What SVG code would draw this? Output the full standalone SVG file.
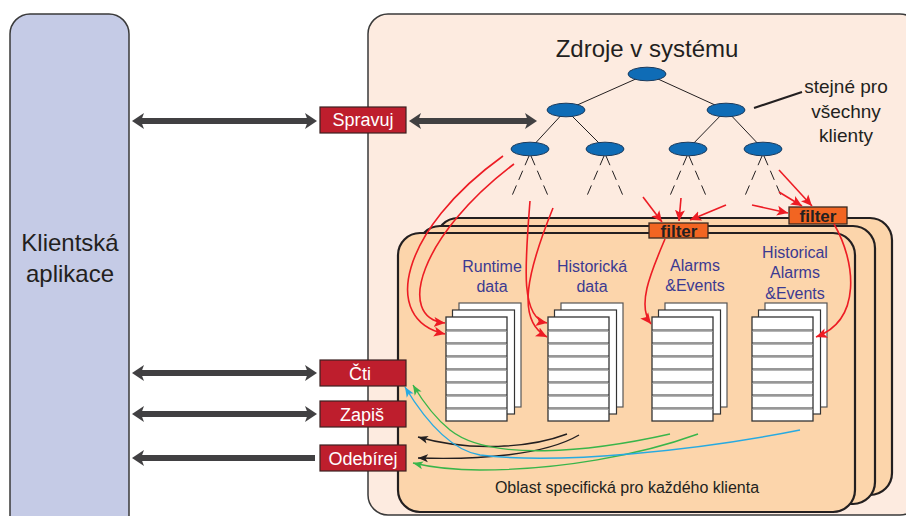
<svg xmlns="http://www.w3.org/2000/svg" xmlns:xlink="http://www.w3.org/1999/xlink" width="906" height="516" viewBox="0 0 906 516">
  <style>
    text { font-family: "Liberation Sans", Arial, sans-serif; }
    .dark { fill: #231f20; }
    .btn rect { fill: #be1e2d; stroke: #3b2020; stroke-width: 1.2; }
    .btn text { fill: #ffffff; font-size: 18px; text-anchor: middle; }
    .lbl { fill: #3b3a92; font-size: 16px; text-anchor: middle; }
    .filter rect { fill: #f26522; stroke: #3a2a20; stroke-width: 1.3; }
    .filter text { fill: #231f20; font-size: 17px; font-weight: bold; text-anchor: middle; }
    .panel { fill: #fcd5ab; stroke: #231f20; stroke-width: 2.2; }
    .tree line { stroke: #231f20; stroke-width: 1; }
    .tree .dash { stroke-dasharray: 10 6; }
    .tree ellipse { fill: #0f6cb6; stroke: #1b3a5c; stroke-width: 1; }
    .bus { stroke: #414042; stroke-width: 6; fill: none; }
    .red { stroke: #ed1c24; stroke-width: 1.6; fill: none; marker-end: url(#hRed); }
    .blk { stroke: #231f20; stroke-width: 1.4; fill: none; marker-end: url(#hBlk); }
    .grn { stroke: #39b54a; stroke-width: 1.4; fill: none; marker-end: url(#hGrn); }
    .blu { stroke: #27aae1; stroke-width: 1.4; fill: none; marker-end: url(#hBlu); }
  </style>
  <defs>
    <marker id="hBus" markerUnits="userSpaceOnUse" viewBox="0 -9 12 18" markerWidth="12" markerHeight="18" refX="5" refY="0" orient="auto-start-reverse">
      <path d="M0,-8 L12,0 L0,8 L3,0 z" fill="#414042"/>
    </marker>
    <marker id="hRed" markerUnits="userSpaceOnUse" viewBox="0 -6 11 12" markerWidth="11" markerHeight="12" refX="11" refY="0" orient="auto">
      <path d="M0,-5 L11,0 L0,5 L2.5,0 z" fill="#ed1c24"/>
    </marker>
    <marker id="hBlk" markerUnits="userSpaceOnUse" viewBox="0 -5 10 10" markerWidth="10" markerHeight="10" refX="10" refY="0" orient="auto">
      <path d="M0,-4 L10,0 L0,4 L2.5,0 z" fill="#231f20"/>
    </marker>
    <marker id="hGrn" markerUnits="userSpaceOnUse" viewBox="0 -5 10 10" markerWidth="10" markerHeight="10" refX="10" refY="0" orient="auto">
      <path d="M0,-4 L10,0 L0,4 L2.5,0 z" fill="#39b54a"/>
    </marker>
    <marker id="hBlu" markerUnits="userSpaceOnUse" viewBox="0 -5 10 10" markerWidth="10" markerHeight="10" refX="10" refY="0" orient="auto">
      <path d="M0,-4 L10,0 L0,4 L2.5,0 z" fill="#27aae1"/>
    </marker>
    <!-- a stack of three record sheets, front sheet at origin -->
    <g id="stack">
      <rect x="13" y="-14" width="62" height="104" fill="#fff" stroke="#555" stroke-width="1.2"/>
      <rect x="6.5" y="-7" width="62" height="104" fill="#fff" stroke="#333" stroke-width="1.2"/>
      <rect x="0" y="0" width="61" height="104" fill="#fff" stroke="#333" stroke-width="1.3"/>
      <path d="M0,13 H61 M0,26 H61 M0,39 H61 M0,52 H61 M0,65 H61 M0,78 H61 M0,91 H61" stroke="#333" stroke-width="1.2"/>
      <path d="M0,14.3 H61 M0,27.3 H61 M0,40.3 H61 M0,53.3 H61 M0,66.3 H61 M0,79.3 H61 M0,92.3 H61" stroke="#999" stroke-width="0.9"/>
    </g>
  </defs>

  <rect width="906" height="516" fill="#ffffff"/>

  <!-- client application -->
  <g id="client">
    <rect x="10" y="14" width="119" height="530" rx="20" fill="#c5cbe6" stroke="#3a3a3a" stroke-width="1.5"/>
    <text x="70" y="251" class="dark" font-size="24" text-anchor="middle">Klientská</text>
    <text x="70" y="282" class="dark" font-size="24" text-anchor="middle">aplikace</text>
  </g>

  <!-- server side -->
  <g id="server">
    <rect x="368" y="14" width="552" height="501" rx="20" fill="#fdebe0" stroke="#3a3a3a" stroke-width="1.5"/>
    <text x="647" y="57" class="dark" font-size="24" text-anchor="middle">Zdroje v systému</text>
  </g>

  <!-- per-client areas -->
  <g id="client-areas">
    <rect class="panel" x="436" y="218" width="456" height="277" rx="22"/>
    <rect class="panel" x="418" y="226" width="457" height="278" rx="22"/>
    <rect class="panel" x="398" y="233" width="457" height="279" rx="22"/>
    <text x="627" y="493" class="dark" font-size="16" text-anchor="middle">Oblast specifická pro každého klienta</text>
  </g>

  <!-- resource tree -->
  <g id="tree" class="tree">
    <line x1="647" y1="74" x2="566" y2="110"/>
    <line x1="647" y1="74" x2="726" y2="110"/>
    <line x1="566" y1="110" x2="530" y2="149"/>
    <line x1="566" y1="110" x2="605" y2="149"/>
    <line x1="726" y1="110" x2="688" y2="149"/>
    <line x1="726" y1="110" x2="763" y2="149"/>
    <line class="dash" x1="529" y1="156" x2="511" y2="198"/>
    <line class="dash" x1="531" y1="156" x2="549" y2="198"/>
    <line class="dash" x1="604" y1="156" x2="586" y2="198"/>
    <line class="dash" x1="606" y1="156" x2="624" y2="198"/>
    <line class="dash" x1="687" y1="156" x2="669" y2="198"/>
    <line class="dash" x1="689" y1="156" x2="707" y2="198"/>
    <line class="dash" x1="762" y1="156" x2="744" y2="198"/>
    <line class="dash" x1="764" y1="156" x2="782" y2="198"/>
    <ellipse cx="647" cy="74" rx="19" ry="6.8"/>
    <ellipse cx="566" cy="110" rx="19" ry="6.8"/>
    <ellipse cx="726" cy="110" rx="19" ry="6.8"/>
    <ellipse cx="530" cy="149" rx="19" ry="6.8"/>
    <ellipse cx="605" cy="149" rx="19" ry="6.8"/>
    <ellipse cx="688" cy="149" rx="19" ry="6.8"/>
    <ellipse cx="763" cy="149" rx="19" ry="6.8"/>
  </g>

  <g id="shared-note">
    <line x1="754" y1="108" x2="802" y2="92" stroke="#231f20" stroke-width="2"/>
    <text x="846" y="93" class="dark" font-size="19" text-anchor="middle">stejné pro</text>
    <text x="846" y="118" class="dark" font-size="19" text-anchor="middle">všechny</text>
    <text x="846" y="142" class="dark" font-size="19" text-anchor="middle">klienty</text>
  </g>

  <!-- data stores -->
  <g id="runtime">
    <text x="492" y="272" class="lbl">Runtime</text>
    <text x="492" y="292" class="lbl">data</text>
    <use xlink:href="#stack" href="#stack" x="446" y="317"/>
  </g>
  <g id="historicka">
    <text x="592" y="272" class="lbl">Historická</text>
    <text x="592" y="292" class="lbl">data</text>
    <use xlink:href="#stack" href="#stack" x="548" y="317"/>
  </g>
  <g id="alarms">
    <text x="695" y="271" class="lbl">Alarms</text>
    <text x="695" y="291" class="lbl">&amp;Events</text>
    <use xlink:href="#stack" href="#stack" x="652" y="317"/>
  </g>
  <g id="hist-alarms">
    <text x="795" y="258" class="lbl">Historical</text>
    <text x="795" y="278" class="lbl">Alarms</text>
    <text x="795" y="299" class="lbl">&amp;Events</text>
    <use xlink:href="#stack" href="#stack" x="752" y="317"/>
  </g>

  <!-- filters -->
  <g id="filter1" class="filter">
    <rect x="649" y="223" width="59" height="15"/>
    <text x="679" y="237">filter</text>
  </g>
  <g id="filter2" class="filter">
    <rect x="789" y="207" width="58" height="17"/>
    <text x="818" y="222">filter</text>
  </g>

  <!-- operations -->
  <g id="spravuj" class="btn">
    <rect x="320" y="107" width="86" height="26"/>
    <text x="363" y="126">Spravuj</text>
  </g>
  <g id="cti" class="btn">
    <rect x="320" y="360" width="86" height="26"/>
    <text x="360" y="380">Čti</text>
  </g>
  <g id="zapis" class="btn">
    <rect x="320" y="401" width="86" height="26"/>
    <text x="362" y="421">Zapiš</text>
  </g>
  <g id="odebirej" class="btn">
    <rect x="320" y="445" width="86" height="26"/>
    <text x="363" y="465">Odebírej</text>
  </g>

  <!-- connectors -->
  <g id="connectors">
    <line class="bus" x1="139" y1="121" x2="310" y2="121" marker-start="url(#hBus)" marker-end="url(#hBus)"/>
    <line class="bus" x1="416" y1="121" x2="530" y2="121" marker-start="url(#hBus)" marker-end="url(#hBus)"/>
    <line class="bus" x1="139" y1="373" x2="310" y2="373" marker-start="url(#hBus)" marker-end="url(#hBus)"/>
    <line class="bus" x1="139" y1="414" x2="310" y2="414" marker-start="url(#hBus)" marker-end="url(#hBus)"/>
    <line class="bus" x1="139" y1="458" x2="315" y2="458" marker-start="url(#hBus)"/>

    <path class="red" d="M503,156 C400,230 380,320 445,334"/>
    <path class="red" d="M514,164 C420,235 395,318 445,323"/>
    <path class="red" d="M530,201 C525,265 520,318 547,323"/>
    <path class="red" d="M553,208 C528,270 515,320 547,337"/>
    <path class="red" d="M643,197 L662,222"/>
    <path class="red" d="M681,198 L679,221"/>
    <path class="red" d="M726,205 L690,220"/>
    <path class="red" d="M779,170 L812,206"/>
    <path class="red" d="M779,192 L802,206"/>
    <path class="red" d="M752,205 L788,213"/>
    <path class="red" d="M665,239 C652,270 636,305 651,324"/>
    <path class="red" d="M834,224 C856,262 862,320 816,337"/>

    <path class="blk" d="M567,434 C530,448 470,452 418,437"/>
    <path class="blk" d="M579,435 C545,455 480,460 418,458"/>
    <path class="grn" d="M670,434 C590,452 490,462 450,430 C435,418 422,400 413,385"/>
    <path class="grn" d="M698,434 C640,455 560,470 480,470 C450,470 430,467 413,463"/>
    <path class="blu" d="M800,430 C700,450 560,465 480,455 C450,450 425,420 405,387"/>
  </g>
</svg>
